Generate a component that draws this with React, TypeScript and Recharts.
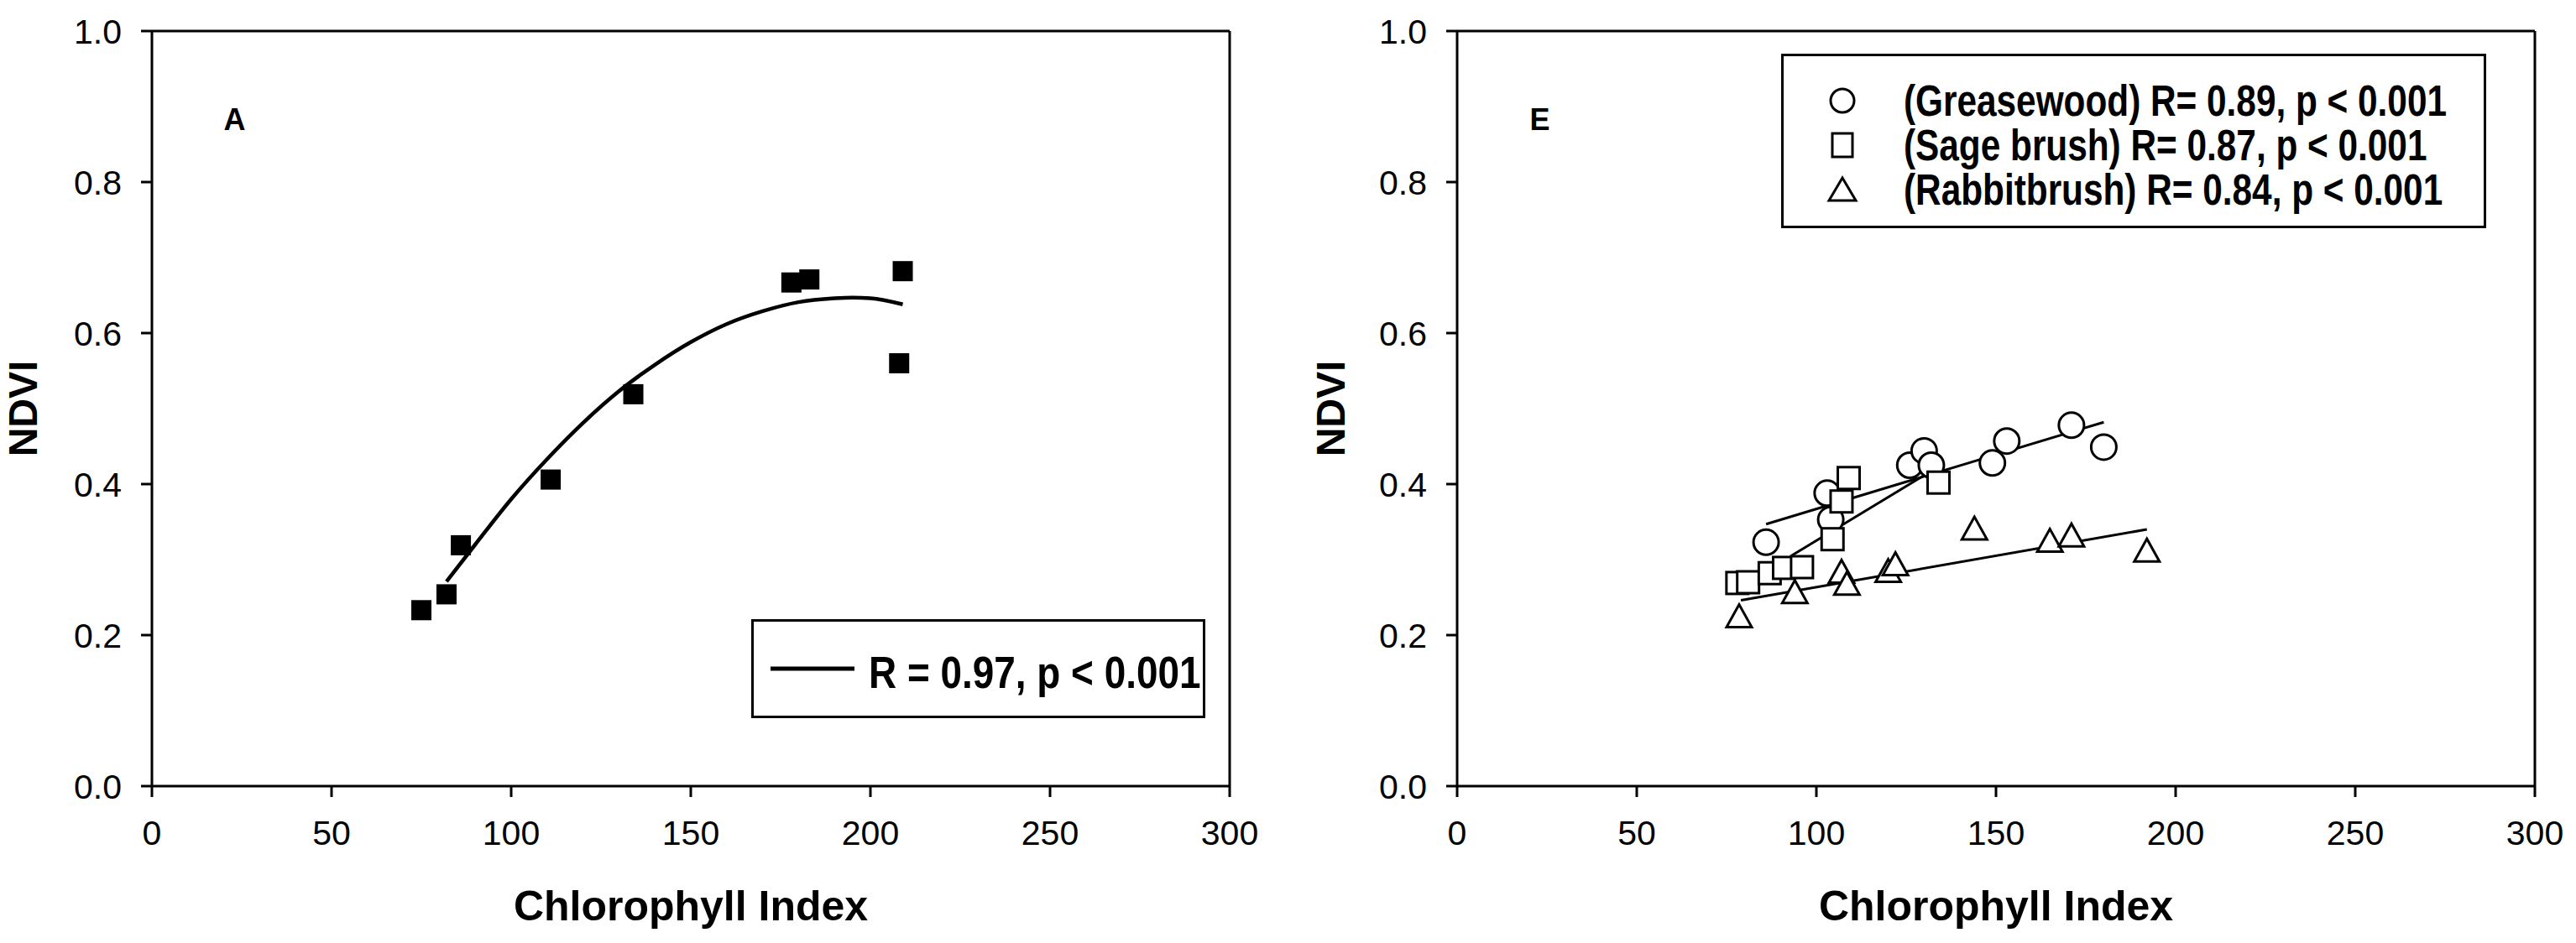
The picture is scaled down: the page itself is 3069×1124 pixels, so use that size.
import React from 'react';
import {
  ScatterChart,
  Scatter,
  XAxis,
  YAxis,
  Legend,
  ReferenceLine,
  ReferenceDot,
} from 'recharts';

const FONT = '"Liberation Sans", Arial, Helvetica, sans-serif';

const xTicks = [0, 50, 100, 150, 200, 250, 300];
const yTicks = [0, 0.2, 0.4, 0.6, 0.8, 1.0];

// panel A: NDVI vs chlorophyll index (all shrubs)
const aX = [75, 82, 86, 111, 134, 178, 183, 209, 208];
const aY = [0.233, 0.254, 0.319, 0.406, 0.519, 0.667, 0.671, 0.682, 0.56];
// fitted curve
const aFitX = [82, 90, 100, 110, 120, 130, 140, 150, 160, 170, 180, 190, 195, 200, 209];
const aFitY = [0.271, 0.32, 0.38, 0.433, 0.481, 0.523, 0.558, 0.588, 0.612, 0.629, 0.641, 0.646, 0.647, 0.646, 0.638];

// panel E: per species
const greaseX = [86, 103, 104, 126, 130, 132, 149, 153, 171, 180];
const greaseY = [0.323, 0.388, 0.353, 0.425, 0.444, 0.425, 0.428, 0.457, 0.478, 0.449];
const greaseFitX = [86, 180];
const greaseFitY = [0.347, 0.482];

const sageX = [78, 81, 87, 91, 96, 104.5, 107, 109, 134];
const sageY = [0.269, 0.27, 0.282, 0.289, 0.29, 0.327, 0.377, 0.408, 0.402];
const sageFitX = [93, 134];
const sageFitY = [0.305, 0.423];

const rabbitX = [78.5, 94, 107, 108.5, 120, 122, 144, 165, 171, 192];
const rabbitY = [0.225, 0.257, 0.284, 0.268, 0.285, 0.294, 0.341, 0.325, 0.332, 0.312];
const rabbitFitX = [79, 192];
const rabbitFitY = [0.246, 0.34];

const panelLabelX = 23;
const panelLabelY = 0.883;

const legendA = 'R = 0.97, p < 0.001';
const legendE = [
  '(Greasewood) R= 0.89, p < 0.001',
  '(Sage brush) R= 0.87, p < 0.001',
  '(Rabbitbrush) R= 0.84, p < 0.001',
];

const zip = (xs: number[], ys: number[]) => xs.map((x, i) => ({ x, y: ys[i] }));

const noDot = () => <g />;

const filledSquare = (p: any) => (
  <rect x={p.cx - 12} y={p.cy - 12} width={24} height={24} fill="#000" />
);
const openCircle = (p: any) => (
  <circle cx={p.cx} cy={p.cy} r={15} fill="#fff" stroke="#000" strokeWidth={3} />
);
const openSquare = (p: any) => (
  <rect x={p.cx - 13} y={p.cy - 13} width={26} height={26} fill="#fff" stroke="#000" strokeWidth={3} />
);
const openTriangle = (p: any) => (
  <polygon
    points={`${p.cx},${p.cy - 14} ${p.cx - 15},${p.cy + 13} ${p.cx + 15},${p.cy + 13}`}
    fill="#fff"
    stroke="#000"
    strokeWidth={3}
    strokeLinejoin="miter"
  />
);

const axisStroke = { stroke: '#000', strokeWidth: 3 };
const tickStyle = { fill: '#000', fontSize: 41, fontFamily: FONT };

function LegendA() {
  return (
    <div
      style={{
        boxSizing: 'border-box',
        width: 541,
        height: 118,
        border: '3px solid #000',
        background: '#fff',
        position: 'relative',
        fontFamily: FONT,
      }}
    >
      <svg width={100} height={10} style={{ position: 'absolute', left: 20, top: 51 }}>
        <line x1={0} y1={5} x2={100} y2={5} stroke="#000" strokeWidth={5} />
      </svg>
      <span
        style={{
          position: 'absolute',
          left: 137,
          top: 33,
          fontSize: 54,
          fontWeight: 'bold',
          lineHeight: 1,
          whiteSpace: 'nowrap',
          transform: 'scaleX(0.85)',
          transformOrigin: 'left center',
        }}
      >
        {legendA}
      </span>
    </div>
  );
}

const legendSymbols = [
  <circle cx={20} cy={20} r={14} fill="#fff" stroke="#000" strokeWidth={3} />,
  <rect x={8} y={6} width={24} height={28} fill="#fff" stroke="#000" strokeWidth={3} />,
  <polygon points="20,6 4,33 36,33" fill="#fff" stroke="#000" strokeWidth={3} />,
];

function LegendE() {
  return (
    <div
      style={{
        boxSizing: 'border-box',
        width: 840,
        height: 208,
        border: '3px solid #000',
        background: '#fff',
        position: 'relative',
        fontFamily: FONT,
      }}
    >
      {legendE.map((txt, i) => (
        <React.Fragment key={txt}>
          <svg width={40} height={40} style={{ position: 'absolute', left: 50, top: 33 + i * 53 }}>
            {legendSymbols[i]}
          </svg>
          <span
            style={{
              position: 'absolute',
              left: 143,
              top: 28 + i * 53,
              fontSize: 51,
              fontWeight: 'bold',
              lineHeight: 1,
              whiteSpace: 'nowrap',
              transform: 'scaleX(0.83)',
              transformOrigin: 'left center',
            }}
          >
            {txt}
          </span>
        </React.Fragment>
      ))}
    </div>
  );
}

type PanelProps = {
  left: number;
  width: number;
  yAxisWidth: number;
  rightMargin: number;
  yLabelOffset: number;
  panel: string;
  children: React.ReactNode;
};

function Panel({ left, width, yAxisWidth, rightMargin, yLabelOffset, panel, children }: PanelProps) {
  return (
    <div style={{ position: 'absolute', left, top: 0 }}>
      <ScatterChart
        width={width}
        height={1124}
        margin={{ top: 37, right: rightMargin, bottom: 27, left: 0 }}
        style={{ fontFamily: FONT }}
      >
        <XAxis
          type="number"
          dataKey="x"
          domain={[0, 300]}
          ticks={xTicks}
          height={160}
          axisLine={axisStroke}
          tickLine={axisStroke}
          tickSize={13}
          tickMargin={28}
          tick={tickStyle}
          label={{
            value: 'Chlorophyll Index',
            position: 'insideBottom',
            offset: 0,
            fontSize: 50,
            fontWeight: 'bold',
            fill: '#000',
            fontFamily: FONT,
          }}
        />
        <YAxis
          type="number"
          dataKey="y"
          domain={[0, 1]}
          ticks={yTicks}
          width={yAxisWidth}
          axisLine={axisStroke}
          tickLine={axisStroke}
          tickSize={13}
          tickMargin={23}
          tick={tickStyle}
          tickFormatter={(v: number) => v.toFixed(1)}
          label={{
            value: 'NDVI',
            angle: -90,
            position: 'insideLeft',
            offset: yLabelOffset,
            fontSize: 48,
            fontWeight: 'bold',
            fill: '#000',
            fontFamily: FONT,
            style: { textAnchor: 'middle' },
          }}
        />
        <ReferenceLine y={1} stroke="#000" strokeWidth={3} />
        <ReferenceLine x={300} stroke="#000" strokeWidth={3} />
        <ReferenceDot
          x={panelLabelX}
          y={panelLabelY}
          r={0}
          fill="none"
          stroke="none"
          label={{ value: panel, position: 'center', fontSize: 36, fontWeight: 'bold', fill: '#000', fontFamily: FONT }}
        />
        {children}
      </ScatterChart>
    </div>
  );
}

export default function App() {
  return (
    <div
      style={{
        position: 'absolute',
        left: 0,
        top: 0,
        width: 3069,
        height: 1124,
        background: '#fff',
        overflow: 'hidden',
      }}
    >
      <Panel left={0} width={1540} yAxisWidth={181} rightMargin={75} yLabelOffset={27} panel="A">
        <Scatter
          data={zip(aFitX, aFitY)}
          line={{ stroke: '#000', strokeWidth: 4.5 }}
          lineJointType="monotoneX"
          shape={noDot}
          legendType="none"
          isAnimationActive={false}
        />
        <Scatter data={zip(aX, aY)} shape={filledSquare} isAnimationActive={false} />
        <Legend
          layout="vertical"
          align="center"
          verticalAlign="middle"
          content={() => <LegendA />}
          wrapperStyle={{ position: 'absolute', left: 895, top: 738, width: 541, height: 118 }}
        />
      </Panel>
      <Panel left={1540} width={1529} yAxisWidth={196} rightMargin={49} yLabelOffset={45} panel="E">
        <Scatter
          data={zip(greaseFitX, greaseFitY)}
          line={{ stroke: '#000', strokeWidth: 3 }}
          shape={noDot}
          legendType="none"
          isAnimationActive={false}
        />
        <Scatter
          data={zip(sageFitX, sageFitY)}
          line={{ stroke: '#000', strokeWidth: 3 }}
          shape={noDot}
          legendType="none"
          isAnimationActive={false}
        />
        <Scatter
          data={zip(rabbitFitX, rabbitFitY)}
          line={{ stroke: '#000', strokeWidth: 3 }}
          shape={noDot}
          legendType="none"
          isAnimationActive={false}
        />
        <Scatter name="Greasewood" data={zip(greaseX, greaseY)} shape={openCircle} isAnimationActive={false} />
        <Scatter name="Sage brush" data={zip(sageX, sageY)} shape={openSquare} isAnimationActive={false} />
        <Scatter name="Rabbitbrush" data={zip(rabbitX, rabbitY)} shape={openTriangle} isAnimationActive={false} />
        <Legend
          layout="vertical"
          align="center"
          verticalAlign="middle"
          content={() => <LegendE />}
          wrapperStyle={{ position: 'absolute', left: 582, top: 64, width: 840, height: 208 }}
        />
      </Panel>
    </div>
  );
}
